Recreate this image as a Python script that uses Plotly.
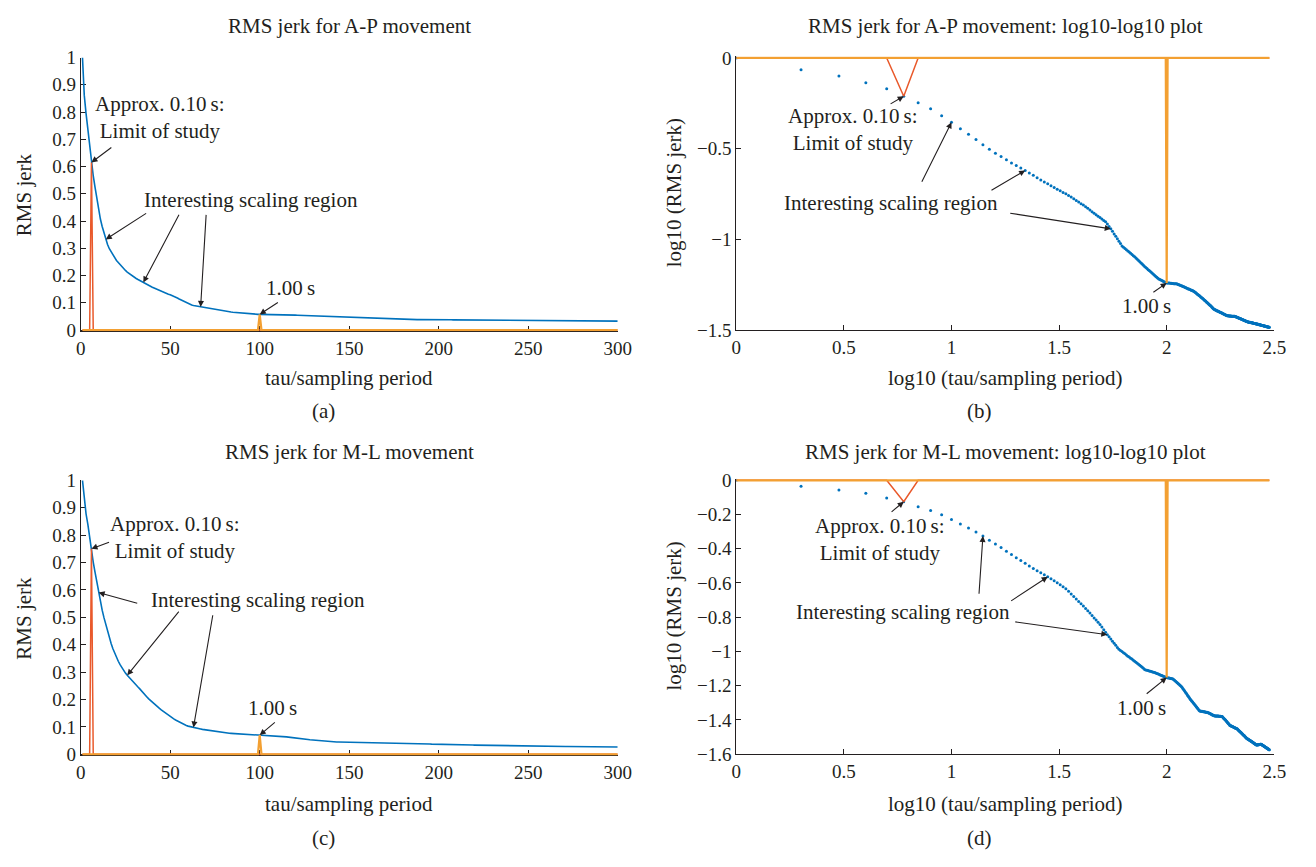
import math
import plotly.graph_objects as go

# the page body keeps its default 8px margin: the figure fills the rest of the window
WIN_W, WIN_H = 1316, 867
OFF = 8
W, H = WIN_W - 2 * OFF, WIN_H - 2 * OFF
FONT = "Liberation Serif, Times New Roman, serif"
INK = "#231f20"
BLUE = "#0072BD"
RED = "#E9592B"
ORANGE = "#F3A032"

# ---------------- data ----------------
TAU = list(range(1, 301))  # tau / sampling period
LIMIT_TAU = 6      # approx. 0.10 s
ONE_SEC_TAU = 100  # 1.00 s

# log10 of normalised RMS jerk, A-P movement (tau = 1..300)
LOG_RMS_AP = [
    0.000, -0.065, -0.100, -0.136, -0.170, -0.211, -0.247, -0.280, -0.319, -0.355,
    -0.390, -0.420, -0.450, -0.478, -0.503, -0.525, -0.543, -0.561, -0.579, -0.593,
    -0.606, -0.620, -0.634, -0.647, -0.660, -0.672, -0.683, -0.694, -0.704, -0.714,
    -0.723, -0.732, -0.741, -0.749, -0.758, -0.767, -0.776, -0.786, -0.794, -0.803,
    -0.811, -0.820, -0.829, -0.838, -0.847, -0.856, -0.864, -0.872, -0.880, -0.888,
    -0.896, -0.903, -0.915, -0.929, -0.942, -0.955, -0.970, -0.983, -0.997, -1.010,
    -1.023, -1.036, -1.044, -1.050, -1.057, -1.064, -1.070, -1.077, -1.083, -1.090,
    -1.096, -1.102, -1.109, -1.116, -1.123, -1.130, -1.135, -1.142, -1.149, -1.155,
    -1.160, -1.167, -1.172, -1.177, -1.183, -1.188, -1.194, -1.199, -1.204, -1.209,
    -1.214, -1.218, -1.221, -1.224, -1.227, -1.230, -1.233, -1.235, -1.238, -1.240,
    -1.240, -1.241, -1.241, -1.242, -1.242, -1.243, -1.243, -1.244, -1.244, -1.245,
    -1.245, -1.246, -1.248, -1.250, -1.252, -1.254, -1.256, -1.257, -1.259, -1.261,
    -1.263, -1.265, -1.267, -1.269, -1.271, -1.273, -1.274, -1.276, -1.278, -1.280,
    -1.281, -1.283, -1.285, -1.287, -1.290, -1.293, -1.296, -1.299, -1.302, -1.305,
    -1.308, -1.311, -1.314, -1.317, -1.320, -1.323, -1.326, -1.329, -1.332, -1.335,
    -1.338, -1.341, -1.345, -1.348, -1.351, -1.354, -1.357, -1.360, -1.363, -1.366,
    -1.369, -1.372, -1.376, -1.379, -1.382, -1.385, -1.387, -1.388, -1.390, -1.391,
    -1.393, -1.394, -1.395, -1.397, -1.398, -1.400, -1.401, -1.403, -1.404, -1.405,
    -1.407, -1.408, -1.410, -1.411, -1.413, -1.414, -1.415, -1.417, -1.418, -1.420,
    -1.421, -1.421, -1.421, -1.421, -1.422, -1.422, -1.422, -1.422, -1.422, -1.423,
    -1.423, -1.423, -1.423, -1.423, -1.424, -1.424, -1.424, -1.425, -1.426, -1.427,
    -1.428, -1.429, -1.430, -1.431, -1.432, -1.433, -1.434, -1.435, -1.436, -1.437,
    -1.438, -1.439, -1.440, -1.441, -1.442, -1.443, -1.444, -1.445, -1.446, -1.447,
    -1.448, -1.449, -1.450, -1.451, -1.452, -1.453, -1.454, -1.454, -1.455, -1.455,
    -1.456, -1.456, -1.457, -1.457, -1.458, -1.458, -1.459, -1.459, -1.460, -1.460,
    -1.461, -1.461, -1.462, -1.462, -1.463, -1.463, -1.464, -1.464, -1.465, -1.465,
    -1.466, -1.466, -1.467, -1.467, -1.468, -1.468, -1.469, -1.469, -1.470, -1.470,
    -1.471, -1.471, -1.472, -1.472, -1.473, -1.473, -1.474, -1.474, -1.475, -1.475,
    -1.476, -1.476, -1.477, -1.477, -1.478, -1.478, -1.479, -1.479, -1.480, -1.480,
    -1.481, -1.481, -1.482, -1.482, -1.483, -1.483, -1.483, -1.484, -1.484, -1.484,
]

# log10 of normalised RMS jerk, M-L movement (tau = 1..300)
LOG_RMS_ML = [
    0.000, -0.034, -0.057, -0.076, -0.103, -0.125, -0.154, -0.177, -0.202, -0.229,
    -0.255, -0.279, -0.302, -0.325, -0.350, -0.372, -0.393, -0.414, -0.434, -0.452,
    -0.469, -0.485, -0.501, -0.515, -0.528, -0.540, -0.552, -0.564, -0.575, -0.587,
    -0.598, -0.610, -0.622, -0.634, -0.649, -0.664, -0.679, -0.694, -0.708, -0.721,
    -0.735, -0.749, -0.762, -0.776, -0.790, -0.804, -0.816, -0.829, -0.842, -0.857,
    -0.873, -0.888, -0.902, -0.915, -0.928, -0.941, -0.953, -0.964, -0.977, -0.987,
    -0.995, -1.001, -1.008, -1.014, -1.021, -1.028, -1.033, -1.040, -1.045, -1.051,
    -1.057, -1.063, -1.069, -1.075, -1.081, -1.087, -1.093, -1.099, -1.105, -1.108,
    -1.110, -1.112, -1.114, -1.116, -1.118, -1.120, -1.122, -1.123, -1.126, -1.129,
    -1.131, -1.134, -1.136, -1.139, -1.141, -1.143, -1.146, -1.148, -1.151, -1.153,
    -1.154, -1.155, -1.156, -1.158, -1.159, -1.160, -1.161, -1.165, -1.170, -1.174,
    -1.179, -1.183, -1.188, -1.192, -1.196, -1.201, -1.205, -1.211, -1.218, -1.224,
    -1.230, -1.237, -1.243, -1.249, -1.256, -1.262, -1.268, -1.275, -1.281, -1.286,
    -1.291, -1.296, -1.301, -1.306, -1.311, -1.316, -1.322, -1.327, -1.332, -1.337,
    -1.342, -1.347, -1.348, -1.349, -1.350, -1.350, -1.351, -1.352, -1.352, -1.353,
    -1.354, -1.355, -1.355, -1.356, -1.357, -1.359, -1.360, -1.362, -1.364, -1.365,
    -1.367, -1.369, -1.371, -1.372, -1.374, -1.376, -1.376, -1.377, -1.377, -1.377,
    -1.378, -1.378, -1.378, -1.378, -1.379, -1.379, -1.379, -1.379, -1.380, -1.380,
    -1.380, -1.383, -1.387, -1.390, -1.393, -1.397, -1.400, -1.403, -1.407, -1.410,
    -1.413, -1.417, -1.420, -1.423, -1.426, -1.430, -1.433, -1.434, -1.435, -1.437,
    -1.438, -1.439, -1.441, -1.442, -1.443, -1.444, -1.446, -1.447, -1.448, -1.450,
    -1.451, -1.452, -1.454, -1.457, -1.459, -1.462, -1.464, -1.466, -1.469, -1.471,
    -1.473, -1.476, -1.478, -1.481, -1.483, -1.485, -1.488, -1.490, -1.492, -1.495,
    -1.497, -1.500, -1.502, -1.504, -1.507, -1.509, -1.510, -1.512, -1.513, -1.515,
    -1.516, -1.518, -1.519, -1.521, -1.522, -1.524, -1.525, -1.527, -1.528, -1.530,
    -1.531, -1.533, -1.534, -1.536, -1.537, -1.539, -1.540, -1.542, -1.543, -1.545,
    -1.546, -1.547, -1.547, -1.546, -1.546, -1.545, -1.545, -1.545, -1.544, -1.544,
    -1.544, -1.543, -1.543, -1.543, -1.543, -1.544, -1.546, -1.547, -1.548, -1.550,
    -1.551, -1.552, -1.553, -1.555, -1.556, -1.557, -1.559, -1.560, -1.561, -1.562,
    -1.564, -1.565, -1.566, -1.568, -1.569, -1.570, -1.571, -1.573, -1.574, -1.575,
]

X_TICKS_LIN = [0, 50, 100, 150, 200, 250, 300]
Y_TICKS_LIN = [0, 0.1, 0.2, 0.3, 0.4, 0.5, 0.6, 0.7, 0.8, 0.9, 1]
X_TICKS_LOG = [0, 0.5, 1, 1.5, 2, 2.5]
Y_TICKS_LOG_AP = [0, -0.5, -1, -1.5]
Y_TICKS_LOG_ML = [0, -0.2, -0.4, -0.6, -0.8, -1, -1.2, -1.4, -1.6]

TITLES = ["RMS jerk for A-P movement", "RMS jerk for A-P movement: log10-log10 plot",
          "RMS jerk for M-L movement", "RMS jerk for M-L movement: log10-log10 plot"]
PANEL_LABELS = ["(a)", "(b)", "(c)", "(d)"]
X_TITLES = ["tau/sampling period", "log10 (tau/sampling period)"]
Y_TITLES = ["RMS jerk", "log10 (RMS jerk)"]


def fmt(v):
    return ("%g" % v).replace("-", "\u2212")


# ---------------- derived series ----------------
LOG_TAU = [math.log10(t) for t in TAU]
RMS_AP = [10 ** v for v in LOG_RMS_AP]
RMS_ML = [10 ** v for v in LOG_RMS_ML]


def marker_series(values, at):
    return [v if t == at else 0 for t, v in zip(TAU, values)]


# ---------------- geometry (window pixels) ----------------
GEOM = {
    "a": dict(xp=(76.7, 621.7), xr=(0, 300), yp=(48.5, 329.1), yr=(-0.004, 1.0)),
    "b": dict(xp=(742.0, 1288.0), xr=(0, 2.5), yp=(47.1, 328.0), yr=(-1.5, 0.01)),
    "c": dict(xp=(76.7, 621.7), xr=(0, 300), yp=(482.0, 764.1), yr=(-0.004, 1.0)),
    "d": dict(xp=(742.0, 1288.0), xr=(0, 2.5), yp=(480.25, 762.7), yr=(-1.6, 0.01)),
}


def px2paper_x(px):
    return (px - OFF) / W


def px2paper_y(py):
    return 1 - (py - OFF) / H


def to_px(p, x, y):
    g = GEOM[p]
    px = g["xp"][0] + (x - g["xr"][0]) / (g["xr"][1] - g["xr"][0]) * (g["xp"][1] - g["xp"][0])
    py = g["yp"][1] - (y - g["yr"][0]) / (g["yr"][1] - g["yr"][0]) * (g["yp"][1] - g["yp"][0])
    return px, py


fig = go.Figure()
AXIS_IDS = {"a": ("x", "y"), "b": ("x2", "y2"), "c": ("x3", "y3"), "d": ("x4", "y4")}
panels = [
    ("a", TAU, RMS_AP, "lin"),
    ("b", LOG_TAU, LOG_RMS_AP, "log"),
    ("c", TAU, RMS_ML, "lin"),
    ("d", LOG_TAU, LOG_RMS_ML, "log"),
]

for p, xs, ys, kind in panels:
    xa, ya = AXIS_IDS[p]
    if kind == "lin":
        fig.add_trace(go.Scatter(x=xs, y=ys, mode="lines", line=dict(color=BLUE, width=1.6),
                                 xaxis=xa, yaxis=ya, showlegend=False, hoverinfo="skip"))
    else:
        fig.add_trace(go.Scatter(x=xs, y=ys, mode="markers",
                                 marker=dict(color=BLUE, size=3.0, line=dict(width=0)),
                                 xaxis=xa, yaxis=ya, showlegend=False, hoverinfo="skip"))
    fig.add_trace(go.Scatter(x=xs, y=marker_series(ys, LIMIT_TAU), mode="lines",
                             line=dict(color=RED, width=1.5),
                             xaxis=xa, yaxis=ya, showlegend=False, hoverinfo="skip"))
    fig.add_trace(go.Scatter(x=xs, y=marker_series(ys, ONE_SEC_TAU), mode="lines",
                             line=dict(color=ORANGE, width=2.2),
                             xaxis=xa, yaxis=ya, showlegend=False, hoverinfo="skip"))


def axis_common():
    return dict(showline=True, linecolor=INK, linewidth=1, ticks="inside", ticklen=5,
                tickcolor=INK, tickwidth=1, showgrid=False, zeroline=False,
                tickfont=dict(family=FONT, size=19, color=INK), layer="below traces",
                fixedrange=True)


layout_axes = {}
for i, p in enumerate(["a", "b", "c", "d"]):
    g = GEOM[p]
    sfx = "" if i == 0 else str(i + 1)
    xdom = [px2paper_x(g["xp"][0]), px2paper_x(g["xp"][1])]
    ydom = [px2paper_y(g["yp"][1]), px2paper_y(g["yp"][0])]
    xa = axis_common()
    ya = axis_common()
    if p in ("a", "c"):
        xa.update(tickvals=X_TICKS_LIN, ticktext=[fmt(v) for v in X_TICKS_LIN])
        ya.update(tickvals=Y_TICKS_LIN, ticktext=[fmt(v) for v in Y_TICKS_LIN])
    else:
        yt = Y_TICKS_LOG_AP if p == "b" else Y_TICKS_LOG_ML
        xa.update(tickvals=X_TICKS_LOG, ticktext=[fmt(v) for v in X_TICKS_LOG])
        ya.update(tickvals=yt, ticktext=[fmt(v) for v in yt])
    xa.update(domain=xdom, range=list(g["xr"]), anchor="y" + sfx)
    ya.update(domain=ydom, range=list(g["yr"]), anchor="x" + sfx)
    layout_axes["xaxis" + sfx] = xa
    layout_axes["yaxis" + sfx] = ya

ann = []


def text_px(txt, x, y, size=21, angle=0):
    ann.append(dict(text=txt, x=px2paper_x(x), y=px2paper_y(y), xref="paper", yref="paper",
                    xanchor="center", yanchor="middle", showarrow=False, textangle=angle,
                    font=dict(family=FONT, size=size, color=INK)))


for p, t, lab in zip(["a", "b", "c", "d"], TITLES, PANEL_LABELS):
    g = GEOM[p]
    cx = (g["xp"][0] + g["xp"][1]) / 2
    top = 16 if p in ("a", "b") else 453
    xt_y = 377 if p in ("a", "b") else 814
    lab_y = 411 if p in ("a", "b") else 849
    text_px(t, cx, top)
    text_px(X_TITLES[0] if p in ("a", "c") else X_TITLES[1], cx, xt_y)
    text_px(lab, cx - 26, lab_y)
    yc = (g["yp"][0] + g["yp"][1]) / 2
    text_px(Y_TITLES[0] if p in ("a", "c") else Y_TITLES[1], 19 if p in ("a", "c") else 679, yc,
            angle=-90)

APPROX = "Approx. 0.10\u2009s:<br>Limit of study"
INTEREST = "Interesting scaling region"
ONESEC = "1.00\u2009s"

TEXTS = {
    "a": [(APPROX, 156.7, 110.5), (INTEREST, 250, 195), (ONESEC, 290, 285)],
    "b": [(APPROX, 860.8, 122.5), (INTEREST, 898.7, 198), (ONESEC, 1158.3, 303.3)],
    "c": [(APPROX, 172.5, 541), (INTEREST, 257, 605), (ONESEC, 271.7, 715)],
    "d": [(APPROX, 887.5, 543), (INTEREST, 911.7, 616.7), (ONESEC, 1153.3, 715)],
}
for p, items in TEXTS.items():
    for txt, x, y in items:
        text_px(txt, x, y)

# arrows: (panel, tau of the pointed data point, tail pixel position)
ARROWS = [
    ("a", 6, (109, 140)), ("a", 14, (144, 208)), ("a", 35, (176.7, 210)),
    ("a", 67, (204, 210.7)), ("a", 100, (278, 299)),
    ("b", 6, (897.3, 96.7)), ("b", 10, (930, 176)), ("b", 22, (1000, 185)),
    ("b", 55, (1020, 208.3)), ("b", 100, (1164, 290)),
    ("c", 6, (106.7, 545)), ("c", 10, (135, 608.3)), ("c", 26, (176.7, 616.7)),
    ("c", 63, (210.7, 621.7)), ("c", 100, (275, 729.3)),
    ("d", 6, (898.3, 515.3)), ("d", 14, (988.3, 598.3)), ("d", 28, (1020, 606)),
    ("d", 53, (1025, 627.3)), ("d", 100, (1157.3, 701.7)),
]
SERIES = {"a": (TAU, RMS_AP), "b": (LOG_TAU, LOG_RMS_AP),
          "c": (TAU, RMS_ML), "d": (LOG_TAU, LOG_RMS_ML)}
for p, tau, (tx, ty) in ARROWS:
    xs, ys = SERIES[p]
    idx = TAU.index(tau)
    x, y = xs[idx], ys[idx]
    px, py = to_px(p, x, y)
    xa, ya = AXIS_IDS[p]
    ann.append(dict(text="", x=x, y=y, xref=xa, yref=ya, showarrow=True,
                    ax=tx - px, ay=ty - py, arrowhead=2, arrowsize=1.1, arrowwidth=1.1,
                    arrowcolor=INK, standoff=0, startstandoff=0))

fig.update_layout(
    width=W, height=H, margin=dict(l=0, r=0, t=0, b=0),
    paper_bgcolor="white", plot_bgcolor="white",
    font=dict(family=FONT, size=19, color=INK),
    annotations=ann, showlegend=False,
    **layout_axes,
)

fig.write_html("out.html", config={"displayModeBar": False})
